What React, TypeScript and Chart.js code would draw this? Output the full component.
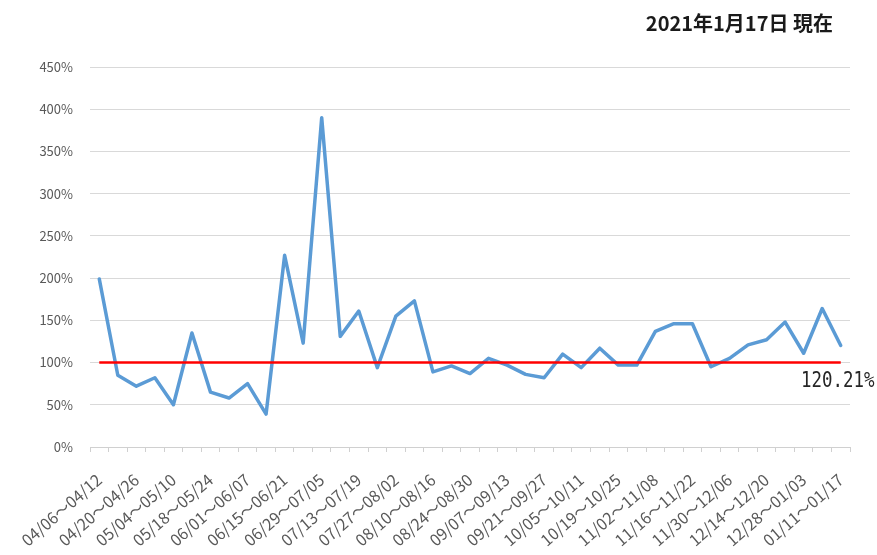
import { useEffect, useRef } from 'react';
import { Chart, registerables } from 'chart.js';

Chart.register(...registerables);

// Weekly periods (Mon～Sun), 2020/04/06 through 2021/01/17
const weeks = [
  '04/06～04/12', '04/13～04/19', '04/20～04/26', '04/27～05/03', '05/04～05/10',
  '05/11～05/17', '05/18～05/24', '05/25～05/31', '06/01～06/07', '06/08～06/14',
  '06/15～06/21', '06/22～06/28', '06/29～07/05', '07/06～07/12', '07/13～07/19',
  '07/20～07/26', '07/27～08/02', '08/03～08/09', '08/10～08/16', '08/17～08/23',
  '08/24～08/30', '08/31～09/06', '09/07～09/13', '09/14～09/20', '09/21～09/27',
  '09/28～10/04', '10/05～10/11', '10/12～10/18', '10/19～10/25', '10/26～11/01',
  '11/02～11/08', '11/09～11/15', '11/16～11/22', '11/23～11/29', '11/30～12/06',
  '12/07～12/13', '12/14～12/20', '12/21～12/27', '12/28～01/03', '01/04～01/10',
  '01/11～01/17',
];

// Week-over-week ratio (%)
const ratios = [
  199, 85, 72, 82, 50, 135, 65, 58, 75, 39,
  227, 123, 390, 131, 161, 94, 155, 173, 89, 96,
  87, 105, 97, 86, 82, 110, 94, 117, 97, 97,
  137, 146, 146, 95, 105, 121, 127, 148, 111, 164,
  120.21,
];

// Reference level drawn as a red horizontal line
const referenceLevel = 100;

const yTicks = [0, 50, 100, 150, 200, 250, 300, 350, 400, 450];

const asOfText = '2021年1月17日 現在';

const jpFont = '"Noto Sans CJK JP", "Noto Sans", sans-serif';

const annotations = {
  id: 'annotations',
  afterDraw(chart: Chart) {
    const { ctx, chartArea, scales } = chart;
    ctx.save();

    // "as of" header in the top-right corner
    ctx.font = `bold 20px ${jpFont}`;
    ctx.fillStyle = '#1a1a1a';
    ctx.textAlign = 'right';
    ctx.textBaseline = 'middle';
    ctx.fillText(asOfText, chartArea.right - 17, 23);

    // latest value, printed under the end of the reference line
    const meta = chart.getDatasetMeta(0);
    const last = meta.data[meta.data.length - 1];
    const latest = ratios[ratios.length - 1];
    const y = scales.y.getPixelForValue(referenceLevel) + 19;
    ctx.translate(last.x - 3, y);
    ctx.scale(0.83, 1);
    ctx.font = '21px "DejaVu Sans Mono", "Liberation Mono", monospace';
    ctx.fillStyle = '#262626';
    ctx.textAlign = 'center';
    ctx.fillText(`${latest.toFixed(2)}%`, 0, 0);
    ctx.restore();
  },
};

export default function App() {
  const canvasRef = useRef<HTMLCanvasElement | null>(null);

  useEffect(() => {
    const canvas = canvasRef.current;
    if (!canvas) return;
    const chart = new Chart(canvas, {
      type: 'line',
      data: {
        labels: weeks,
        datasets: [
          {
            label: '前週比',
            data: ratios,
            borderColor: '#5B9BD5',
            borderWidth: 3.5,
            borderJoinStyle: 'round',
            borderCapStyle: 'round',
            pointRadius: 0,
            tension: 0,
            order: 2,
          },
          {
            label: '基準',
            data: weeks.map(() => referenceLevel),
            borderColor: '#FF0000',
            borderWidth: 2.5,
            pointRadius: 0,
            tension: 0,
            order: 1,
          },
        ],
      },
      options: {
        animation: false,
        responsive: true,
        maintainAspectRatio: false,
        layout: { padding: { top: 67, right: 27, left: 0, bottom: 0 } },
        plugins: {
          legend: { display: false },
          title: { display: false },
          tooltip: { enabled: false },
        },
        scales: {
          x: {
            type: 'category',
            offset: true,
            grid: {
              offset: true,
              drawOnChartArea: false,
              drawTicks: true,
              tickLength: 5,
              color: '#d0d0d0',
            },
            border: { display: true, color: '#d0d0d0', width: 1 },
            ticks: {
              autoSkip: false,
              maxRotation: 41,
              minRotation: 41,
              padding: 18,
              color: '#595959',
              font: { family: jpFont, size: 16 },
              callback: (_v: any, i: number) => (i % 2 === 0 ? weeks[i] : ''),
            },
            afterFit: (scale: any) => {
              scale.height = 108;
            },
          },
          y: {
            min: 0,
            max: 450,
            afterBuildTicks: (scale: any) => {
              scale.ticks = yTicks.map((v) => ({ value: v }));
            },
            grid: { color: '#d9d9d9', lineWidth: 1, drawTicks: false },
            border: { display: false },
            ticks: {
              padding: 17,
              color: '#595959',
              font: { family: jpFont, size: 13 },
              callback: (v: any) => `${v}%`,
            },
            afterFit: (scale: any) => {
              scale.width = 90;
            },
          },
        },
      },
      plugins: [annotations],
    });
    return () => chart.destroy();
  }, []);

  return (
    <div
      style={{
        position: 'fixed',
        left: 0,
        top: 0,
        width: 877,
        height: 555,
        background: '#ffffff',
      }}
    >
      <canvas ref={canvasRef} />
    </div>
  );
}
